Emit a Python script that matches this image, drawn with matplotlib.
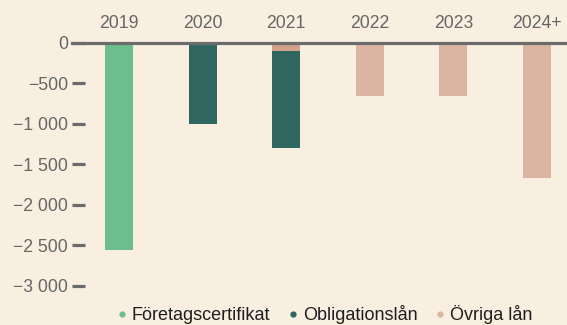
import matplotlib
matplotlib.use("Agg")
import matplotlib.pyplot as plt
from matplotlib.lines import Line2D
import numpy as np

plt.rcParams['font.family'] = ['Liberation Sans', 'DejaVu Sans']

years = ["2019", "2020", "2021", "2022", "2023", "2024+"]
foretagscertifikat = [-2550, 0, 0, 0, 0, 0]
obligationslan = [0, -1000, -1200, 0, 0, 0]
ovriga_lan = [0, 0, -100, -660, -660, -1670]

series_names = ["Företagscertifikat", "Obligationslån", "Övriga lån"]
yticks = [0, -500, -1000, -1500, -2000, -2500, -3000]

bg = "#F8EFE0"
c_fc = "#6DBE8D"
c_ob = "#2F6660"
c_ov = "#DBB5A1"
c_ov_bars = [c_ov, c_ov, "#D4A28B", c_ov, c_ov, c_ov]
axis_grey = "#6B6B6B"
text_grey = "#666666"

W, H = 567, 325
fig = plt.figure(figsize=(W / 100, H / 100), dpi=100, facecolor=bg)
ax = fig.add_axes([72 / W, (H - 286) / H, (W - 72) / W, (286 - 42.7) / H])
ax.set_facecolor(bg)

x = np.arange(len(years))
width = 0.335
ov = np.array(ovriga_lan, dtype=float)
ob = np.array(obligationslan, dtype=float)
fc = np.array(foretagscertifikat, dtype=float)

ax.bar(x, ov, width, color=c_ov_bars, zorder=2)
ax.bar(x, ob, width, bottom=ov, color=c_ob, zorder=2)
ax.bar(x, fc, width, bottom=ov + ob, color=c_fc, zorder=2)

ax.axhline(0, color=axis_grey, lw=2.3, zorder=3, clip_on=False)

ax.set_xlim(-0.562, 5.36)
ax.set_ylim(-3000, 0)
for s in ax.spines.values():
    s.set_visible(False)

ax.set_yticks(yticks)
ax.set_yticklabels([("\u2212" + f"{abs(v):,}".replace(",", " ")) if v < 0 else "0" for v in yticks])
ax.tick_params(axis="y", direction="in", length=9, width=2.3, color=axis_grey,
               labelsize=12.7, labelcolor=text_grey, pad=3)

ax.set_xticks(x)
ax.set_xticklabels(years)
ax.xaxis.tick_top()
ax.tick_params(axis="x", length=0, labelsize=12.7, labelcolor=text_grey, pad=8)

handles = [Line2D([], [], ls="none", marker="o", ms=4.5, mec="none", mfc=c)
           for c in (c_fc, c_ob, c_ov)]
fig.legend(handles, series_names, loc="center", ncol=3,
           bbox_to_anchor=(325 / W, 1 - 314.5 / H), frameon=False,
           fontsize=13, labelcolor="#1E1E1E", handlelength=0.5,
           handletextpad=0.3, columnspacing=1.0, borderpad=0)

fig.savefig("out.png", dpi=100, facecolor=bg)
